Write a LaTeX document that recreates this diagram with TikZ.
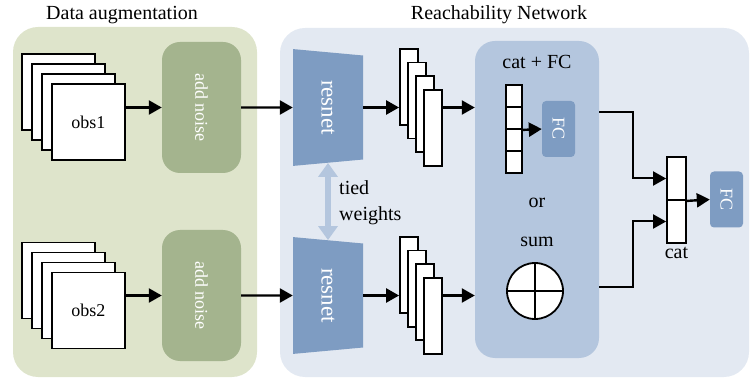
\documentclass[tikz,border=0pt]{standalone}
\usepackage{fontspec}
\setmainfont{Liberation Serif}
\usetikzlibrary{arrows.meta,shapes.geometric,positioning}
\definecolor{augbg}{HTML}{DEE4CB}
\definecolor{noisefill}{HTML}{A4B48E}
\definecolor{netbg}{HTML}{E3E9F2}
\definecolor{innerfill}{HTML}{B4C6DE}
\definecolor{resfill}{HTML}{7E9CC2}
\tikzset{panel/.style={rectangle, rounded corners=25pt, inner sep=0pt},
    title/.style={font=\fontsize{20}{24}\selectfont},
    txt/.style={font=\fontsize{20}{26}\selectfont, inner sep=1pt},
    sheet/.style={draw, line width=1.8pt, fill=white, minimum width=73pt, minimum height=76pt, inner sep=0pt, font=\fontsize{18}{20}\selectfont},
    feat/.style={draw, line width=1.8pt, fill=white, minimum width=18pt, minimum height=76pt, inner sep=0pt},
    cell/.style={draw, line width=1.8pt, fill=white, minimum width=16pt, minimum height=22pt, inner sep=0pt},
    catcell/.style={draw, line width=1.8pt, fill=white, minimum width=19pt, minimum height=43pt, inner sep=0pt},
    noise/.style={fill=noisefill, rounded corners=18pt, minimum width=79pt, minimum height=131pt, text=white, inner sep=0pt, font=\fontsize{18}{20}\selectfont},
    resnet/.style={trapezium, trapezium stretches=true, trapezium angle=75.6, minimum width=117pt, minimum height=70pt, rotate=-90, fill=resfill, text=white, inner sep=0pt, font=\fontsize{23}{26}\selectfont},
    inner/.style={fill=innerfill, rounded corners=20pt, minimum width=124pt, minimum height=317pt, inner sep=0pt},
    fc/.style={fill=resfill, rounded corners=4pt, minimum width=33pt, minimum height=56pt, text=white, inner sep=0pt, font=\fontsize{18}{20}\selectfont},
    sumc/.style={circle, draw, line width=1.8pt, fill=white, minimum size=56pt, inner sep=0pt},
    arr/.style={line width=2.4pt, -{Triangle[length=13pt,width=14pt]}},
    link/.style={line width=2pt, -{Triangle[length=13pt,width=14pt]}},
    tied/.style={line width=6pt, innerfill, {Triangle[length=14pt,width=19pt]}-{Triangle[length=14pt,width=19pt]}}}

\begin{document}
\begin{tikzpicture}[x=1pt,y=-1pt]
    \useasboundingbox (0,0) rectangle (750,382);
    % panels
    \node[panel,fill=augbg,minimum width=244pt,minimum height=350pt] (aug) at (135,202) {};
    \node[panel,fill=netbg,minimum width=469pt,minimum height=349pt] (net) at (514.5,202.5) {};
    \node[title] (augT) at (122,15) {Data augmentation};
    \node[title] (netT) at (499,15) {Reachability Network};
    \node[inner] (cbox) at (537,199.5) {};

    % observations
    \foreach \i in {3,2,1} {
        \node[sheet] (oA\i) at (88.5-10*\i,122-10*\i) {};
        \node[sheet] (oB\i) at (88.5-10*\i,310.5-10*\i) {};
    }
    \node[sheet] (obsA) at (88.5,122) {obs1};
    \node[sheet] (obsB) at (88.5,310.5) {obs2};
    \node[noise] (noiseA) at (201.5,107.5) {\rotatebox{-90}{add noise}};
    \node[noise] (noiseB) at (201.5,295.5) {\rotatebox{-90}{add noise}};
    \node[resnet] (resA) at (328,107.5) {resnet};
    \node[resnet] (resB) at (328,295.5) {resnet};

    % feature maps
    \foreach \i in {3,2,1,0} {
        \node[feat] (fA\i) at (433-8*\i,128-13.7*\i) {};
        \node[feat] (fB\i) at (433-8*\i,316-13.7*\i) {};
    }

    \draw[arr] (obsA.east |- noiseA.west) -- (noiseA.west);
    \draw[arr] (obsB.east |- noiseB.west) -- (noiseB.west);
    \draw[arr] (noiseA.east) -- (resA.south);
    \draw[arr] (noiseB.east) -- (resB.south);
    \draw[arr] (resA.north) -- (fA3.west |- resA.north);
    \draw[arr] (resB.north) -- (fB3.west |- resB.north);
    \draw[arr] (fA0.east |- resA.north) -- (cbox.west |- resA.north);
    \draw[arr] (fB0.east |- resB.north) -- (cbox.west |- resB.north);
    \draw[tied] (resA.east) -- (resB.west);
    \node[txt,align=left,anchor=west] (tiedT) at (338,203) {tied\\weights};

    % cat + FC or sum
    \node[txt] (catfcT) at (537,62) {cat + FC};
    \foreach \i in {1,...,4}
        \node[cell] (v\i) at (514,74+22*\i) {};
    \node[fc] (fcA) at (558.5,129) {\rotatebox{-90}{FC}};
    \draw[arr] (v2.south east) -- (fcA.west);
    \node[txt] (orT) at (537,203) {or};
    \node[txt] (sumT) at (537,242) {sum};
    \node[sumc] (sum) at (535,291) {};
    \draw[line width=1.2pt] (sum.north) -- (sum.south) (sum.west) -- (sum.east);

    % final cat
    \coordinate (outA) at (599,112);
    \coordinate (outB) at (599,287);
    \node[catcell] (cat1) at (676.5,178.5) {};
    \node[catcell] (cat2) at (676.5,221.5) {};
    \node[txt,below=2pt of cat2] (catT) {cat};
    \draw[link] (outA) -- ++(34,0) |- (cat1.west);
    \draw[link] (outB) -- ++(34,0) |- (cat2.west);
    \node[fc] (fcB) at (726.5,199.5) {\rotatebox{-90}{FC}};
    \draw[arr] (cat1.south east) -- (fcB.west);
\end{tikzpicture}
\end{document}
